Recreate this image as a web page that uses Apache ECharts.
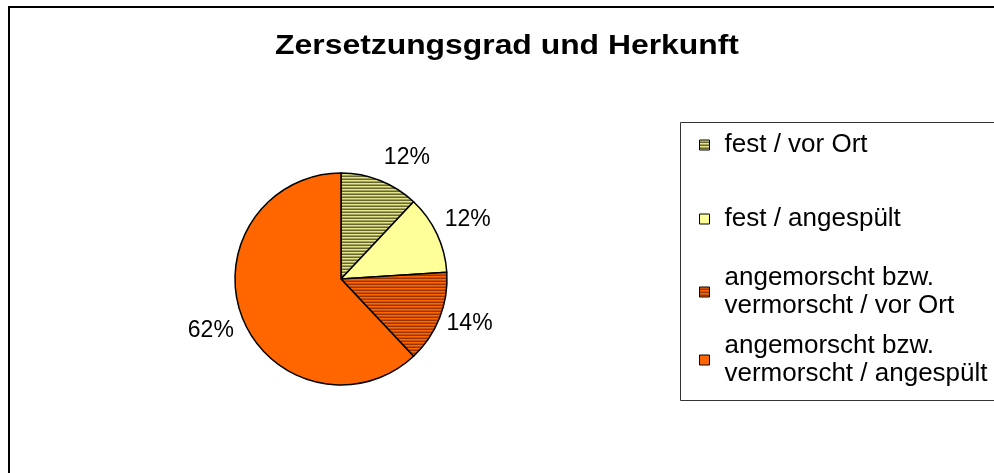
<!DOCTYPE html>
<html>
<head>
<meta charset="utf-8">
<script src="https://cdn.jsdelivr.net/npm/echarts@6/dist/echarts.min.js"></script>
<style>
html, body { margin: 0; padding: 0; background: #fff; }
#chart { width: 994px; height: 473px; }
</style>
</head>
<body>
<div id="chart"></div>
<script>
// Daten
const chartTitle = 'Zersetzungsgrad und Herkunft';
const categories = [
    'fest / vor Ort',
    'fest / angespült',
    'angemorscht bzw.\nvermorscht / vor Ort',
    'angemorscht bzw.\nvermorscht / angespült'
];
const values = [12, 12, 14, 62];

const FONT = '"Liberation Sans", Arial, sans-serif';

// horizontale Streifen als Muster
function stripes(rows) {
    const c = document.createElement('canvas');
    c.width = 4;
    c.height = rows.length;
    const ctx = c.getContext('2d');
    rows.forEach((col, i) => {
        ctx.fillStyle = col;
        ctx.fillRect(0, i, 4, 1);
    });
    return { image: c, repeat: 'repeat' };
}

const fills = [
    stripes(['#e5e58c', '#a3a35c', '#66662e']),
    '#ffff99',
    stripes(['#ff6600', '#cc5200', '#993300']),
    '#ff6600'
];

// Abstand der Prozentwerte je Segment (Beschriftung wie im Original)
const labelLen = [24, 34, 14, 34];
const labelShift = [-5, -23, -6, -23];

const seriesData = categories.map((name, i) => ({
    name: name,
    value: values[i],
    itemStyle: { color: fills[i] },
    label: { distanceToLabelLine: labelShift[i] },
    labelLine: { length: labelLen[i] }
}));

// eine Legende pro Eintrag, damit die Abstände gleich bleiben
const legendTops = [131, 205, 250, 318];
const legends = categories.map((name, i) => ({
    data: [name],
    orient: 'vertical',
    left: 699,
    top: legendTops[i],
    padding: 0,
    icon: 'rect',
    itemWidth: 10,
    itemHeight: 10,
    selectedMode: false,
    itemStyle: { borderColor: '#000', borderWidth: 1 },
    textStyle: {
        color: '#000',
        fontSize: 26,
        fontFamily: FONT,
        lineHeight: 28,
        padding: name.indexOf('\n') >= 0 ? [28, 0, 0, 10] : [0, 0, 0, 10]
    }
}));

const myChart = echarts.init(document.getElementById('chart'));

const option = {
    backgroundColor: '#fff',
    animation: false,
    graphic: [
        {
            type: 'rect',
            shape: { x: 9, y: 7, width: 1100, height: 600 },
            style: { fill: 'none', stroke: '#000', lineWidth: 2 },
            silent: true
        },
        {
            type: 'rect',
            shape: { x: 680.5, y: 122.5, width: 400, height: 278 },
            style: { fill: 'none', stroke: '#333', lineWidth: 1 },
            silent: true
        },
        {
            type: 'text',
            x: 507,
            y: 47,
            scaleX: 1.18,
            style: {
                text: chartTitle,
                font: 'bold 27px ' + FONT,
                fill: '#000',
                textAlign: 'center',
                textVerticalAlign: 'middle'
            },
            silent: true
        }
    ],
    legend: legends,
    series: [
        {
            type: 'pie',
            center: [341, 279],
            radius: 106,
            startAngle: 90,
            clockwise: true,
            avoidLabelOverlap: false,
            itemStyle: { borderColor: '#000', borderWidth: 1.5 },
            emphasis: { disabled: true },
            label: {
                show: true,
                position: 'outside',
                formatter: '{d}%',
                color: '#000',
                fontSize: 23,
                fontFamily: FONT,
                distanceToLabelLine: -23
            },
            labelLine: { show: false, length: 34, length2: 0 },
            data: seriesData
        }
    ]
};

myChart.setOption(option);
</script>
</body>
</html>
